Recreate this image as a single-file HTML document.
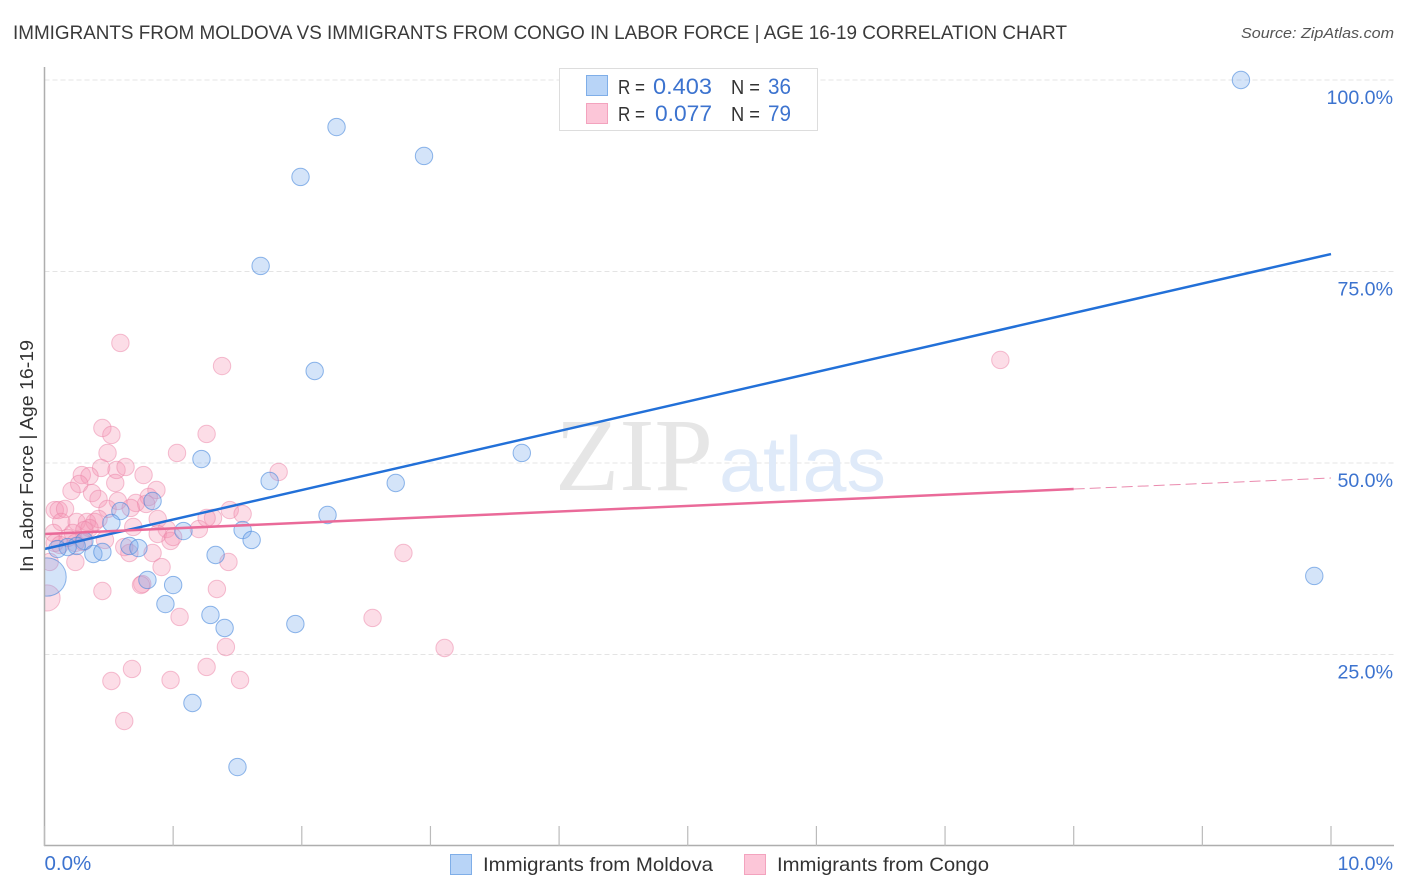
<!DOCTYPE html>
<html lang="en">
<head>
<meta charset="utf-8">
<title>Immigrants from Moldova vs Immigrants from Congo in Labor Force | Age 16-19 Correlation Chart</title>
<style>
  html, body { margin: 0; padding: 0; background: #fff; }
  svg { display: block; font-family: "Liberation Sans", sans-serif; }
</style>
</head>
<body>
<svg id="chart" width="1406" height="892" viewBox="0 0 1406 892" xmlns="http://www.w3.org/2000/svg">
  <defs>
    <clipPath id="plot-clip"><rect x="45" y="60" width="1350" height="786"/></clipPath>
  </defs>
  <rect x="0" y="0" width="1406" height="892" fill="#fff"/>

  <text x="13" y="39" font-size="19.5" fill="#3a3a3a" textLength="1054" lengthAdjust="spacingAndGlyphs">IMMIGRANTS FROM MOLDOVA VS IMMIGRANTS FROM CONGO IN LABOR FORCE | AGE 16-19 CORRELATION CHART</text>
  <text x="1241" y="38" font-size="15" font-style="italic" fill="#555" textLength="153" lengthAdjust="spacingAndGlyphs">Source: ZipAtlas.com</text>

  <g id="grid"></g>

  <g>
    <text x="555" y="490" font-family="'Liberation Serif', serif" font-size="104" fill="#e6e6e6" textLength="158" lengthAdjust="spacingAndGlyphs">ZIP</text>
    <text x="719" y="491" font-size="78" fill="#dfeaf9" textLength="167" lengthAdjust="spacingAndGlyphs">atlas</text>
  </g>

  <g id="points-congo" clip-path="url(#plot-clip)"></g>
  <g id="points-moldova" clip-path="url(#plot-clip)"></g>
  <g id="trends"></g>
  <g id="axes"></g>

  <text transform="translate(33,456) rotate(-90)" text-anchor="middle" font-size="18.5" fill="#333" textLength="232" lengthAdjust="spacingAndGlyphs">In Labor Force | Age 16-19</text>

  <g>
    <rect x="559.5" y="68.5" width="258" height="62" fill="#fff" stroke="#ddd" stroke-width="1"/>
    <rect x="586.5" y="75.5" width="21" height="20" fill="#b8d4f7" stroke="#7faee8"/>
    <rect x="586.5" y="103.5" width="21" height="20" fill="#fcc6d8" stroke="#f3a3be"/>
    <text x="618" y="94" font-size="20" fill="#333" textLength="27" lengthAdjust="spacingAndGlyphs">R =</text>
    <text x="653" y="94" font-size="22" fill="#3c73cf" textLength="59" lengthAdjust="spacingAndGlyphs">0.403</text>
    <text x="731" y="94" font-size="20" fill="#333" textLength="29" lengthAdjust="spacingAndGlyphs">N =</text>
    <text x="768" y="94" font-size="22" fill="#3c73cf" textLength="23" lengthAdjust="spacingAndGlyphs">36</text>
    <text x="618" y="121" font-size="20" fill="#333" textLength="27" lengthAdjust="spacingAndGlyphs">R =</text>
    <text x="655" y="121" font-size="22" fill="#3c73cf" textLength="57" lengthAdjust="spacingAndGlyphs">0.077</text>
    <text x="731" y="121" font-size="20" fill="#333" textLength="29" lengthAdjust="spacingAndGlyphs">N =</text>
    <text x="768" y="121" font-size="22" fill="#3c73cf" textLength="23" lengthAdjust="spacingAndGlyphs">79</text>
  </g>

  <g>
    <g>
      <rect x="450.5" y="854.5" width="21" height="20" fill="#b8d4f7" stroke="#7faee8"/>
      <text x="483" y="871" font-size="19.5" fill="#333" textLength="230" lengthAdjust="spacingAndGlyphs">Immigrants from Moldova</text>
    </g>
    <g>
      <rect x="744.5" y="854.5" width="21" height="20" fill="#fcc6d8" stroke="#f3a3be"/>
      <text x="777" y="871" font-size="19.5" fill="#333" textLength="212" lengthAdjust="spacingAndGlyphs">Immigrants from Congo</text>
    </g>
  </g>
</svg>

<script>
const moldovaX = [9.30,2.27,2.95,1.99,1.68,2.10,3.71,1.22,1.75,2.73,0.84,2.20,0.59,0.52,1.08,1.54,1.61,0.31,0.25,0.18,0.10,0.38,0.45,0.66,0.73,1.33,0.80,1.00,0.94,1.29,1.40,1.95,1.15,1.50,9.87,0.02];
const moldovaY = [100.0,93.86,90.08,87.34,75.72,62.01,51.31,50.52,47.65,47.39,45.04,43.21,43.73,42.17,41.12,41.25,39.95,39.82,39.17,39.03,38.77,38.12,38.38,39.17,38.90,37.99,34.73,34.07,31.59,30.16,28.46,28.98,18.67,10.31,35.25,35.12];
const moldovaWeight = [1,1,1,1,1,1,1,1,1,1,1,1,1,1,1,1,1,1,1,1,1,1,1,1,1,1,1,1,1,1,1,1,1,1,1,2.2];

const congoX = [0.49,1.03,1.26,1.82,0.44,0.56,0.63,0.77,0.55,0.29,0.35,0.27,0.21,0.37,0.42,0.87,0.81,0.57,0.71,0.79,0.08,0.11,0.16,0.49,0.67,0.13,0.25,0.33,0.42,0.39,0.88,0.69,0.07,0.22,0.35,0.95,1.20,0.88,0.98,1.00,1.31,1.26,1.44,1.54,0.08,0.24,0.30,0.62,0.66,0.84,0.24,0.91,1.43,0.04,0.02,0.76,0.75,0.45,1.34,1.05,7.43,1.38,0.59,0.45,0.52,2.55,2.79,1.41,3.11,0.68,1.26,0.52,0.98,1.52,0.62,0.18,0.31,0.12,0.47];
const congoY = [51.31,51.31,53.79,48.83,49.35,49.09,49.48,48.43,47.39,48.43,48.30,47.26,46.35,46.08,45.30,46.48,45.56,45.04,44.78,44.65,43.86,43.86,44.00,44.00,44.13,42.30,42.30,42.30,42.69,42.30,42.69,41.65,40.86,40.86,41.51,41.38,41.38,40.73,39.82,40.34,42.82,42.82,43.86,43.34,39.56,39.56,39.69,39.03,38.25,38.25,37.08,36.42,37.08,37.08,32.38,34.20,34.07,33.29,33.55,29.90,63.45,62.66,65.67,54.57,53.66,29.77,38.25,25.98,25.85,23.11,23.37,21.54,21.67,21.67,16.32,40.21,41.25,39.30,39.95];
const congoWeight = [1,1,1,1,1,1,1,1,1,1,1,1,1,1,1,1,1,1,1,1,1,1,1,1,1,1,1,1,1,1,1,1,1,1,1,1,1,1,1,1,1,1,1,1,1,1,1,1,1,1,1,1,1,1,1.5,1,1,1,1,1,1,1,1,1,1,1,1,1,1,1,1,1,1,1,1,1,1,1,1];

const moldovaTrendX = [0, 10];
const moldovaTrendY = [38.77, 77.28];
const congoTrendSolidX = [0, 8];
const congoTrendSolidY = [40.73, 46.6];
const congoTrendDashX = [8, 10];
const congoTrendDashY = [46.6, 48.04];

const yTickValues = [100, 75, 50, 25];
const yTickLabels = ["100.0%", "75.0%", "50.0%", "25.0%"];
const xTickValues = [0, 1, 2, 3, 4, 5, 6, 7, 8, 9, 10];
const xEndValues = [0, 10];
const xEndLabels = ["0.0%", "10.0%"];

const NS = "http://www.w3.org/2000/svg";
function xScale(v) { return 44.5 + v * 128.65; }
function yScale(v) { return 846 - v * 7.66; }
function make(tag, attrs, parent) {
  const el = document.createElementNS(NS, tag);
  for (const k in attrs) el.setAttribute(k, attrs[k]);
  parent.appendChild(el);
  return el;
}

const grid = document.getElementById("grid");
const axes = document.getElementById("axes");
const trends = document.getElementById("trends");

yTickValues.forEach(function (v, i) {
  const line = make("line", { x1: 44.5, x2: 1394, y1: yScale(v), y2: yScale(v), stroke: "#e4e4e4", "stroke-width": 1, "stroke-dasharray": "5 3" }, grid);
  
  
  const label = make("text", { x: 1393, y: yScale(v) + 24, "text-anchor": "end", "font-size": 19.6, fill: "#3c73cf" }, axes);
  label.textContent = yTickLabels[i];
  
  
});

const yAxis = make("line", { x1: 44.5, x2: 44.5, y1: 67, y2: 846, stroke: "#aeaeae", "stroke-width": 1.5 }, axes);


const xAxis = make("line", { x1: 44, x2: 1394, y1: 845.5, y2: 845.5, stroke: "#aeaeae", "stroke-width": 1.5 }, axes);



xTickValues.forEach(function (v) {
  const tick = make("line", { x1: xScale(v), x2: xScale(v), y1: 826, y2: 846, stroke: "#bbb", "stroke-width": 1.2 }, axes);
  
  
});

xEndValues.forEach(function (v, i) {
  const label = make("text", { x: i === 0 ? xScale(v) : 1393, y: 870, "text-anchor": i === 0 ? "start" : "end", "font-size": i === 0 ? 20.5 : 19.6, fill: "#3c73cf" }, axes);
  label.textContent = xEndLabels[i];
  
  
});

function drawPoints(groupId, xs, ys, weights, fill, stroke, name) {
  const group = document.getElementById(groupId);
  xs.forEach(function (x, i) {
    const c = make("circle", { cx: xScale(x), cy: yScale(ys[i]), r: 8.7 * weights[i], fill: fill, stroke: stroke, "stroke-width": 1 }, group);
    
    
  });
}
drawPoints("points-congo", congoX, congoY, congoWeight, "rgba(246,150,180,0.32)", "rgba(236,130,165,0.50)", "congo-point");
drawPoints("points-moldova", moldovaX, moldovaY, moldovaWeight, "rgba(120,170,235,0.32)", "rgba(70,135,220,0.60)", "moldova-point");

const moldovaLine = make("line", { x1: xScale(moldovaTrendX[0]), y1: yScale(moldovaTrendY[0]), x2: xScale(moldovaTrendX[1]), y2: yScale(moldovaTrendY[1]), stroke: "#2270d8", "stroke-width": 2.5 }, trends);


const congoLine = make("line", { x1: xScale(congoTrendSolidX[0]), y1: yScale(congoTrendSolidY[0]), x2: xScale(congoTrendSolidX[1]), y2: yScale(congoTrendSolidY[1]), stroke: "#ea6a99", "stroke-width": 2.5 }, trends);


const congoDash = make("line", { x1: xScale(congoTrendDashX[0]), y1: yScale(congoTrendDashY[0]), x2: xScale(congoTrendDashX[1]), y2: yScale(congoTrendDashY[1]), stroke: "#ea8aae", "stroke-width": 1, "stroke-dasharray": "11 5" }, trends);


</script>
</body>
</html>
